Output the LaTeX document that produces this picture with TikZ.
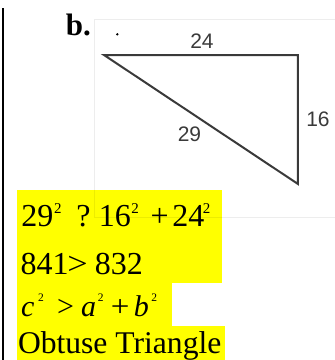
\documentclass[tikz,border=0pt]{standalone}
\usepackage{fontspec}
\setmainfont{Liberation Serif}
\newfontfamily\labsans{Liberation Sans}
\usepackage{graphicx}
\definecolor{hl}{HTML}{FFFF00}
\definecolor{trigray}{HTML}{3A3A3A}
\tikzset{
  base/.style={inner sep=0pt, outer sep=0pt, anchor=base west},
  big/.style={base, font=\fontsize{32}{32}\selectfont},
  mid/.style={base, font=\fontsize{30}{30}\selectfont\itshape},
  midup/.style={base, font=\fontsize{30}{30}\selectfont},
  sup/.style={base, font=\fontsize{15}{15}\selectfont},
  smallsup/.style={base, font=\fontsize{11.5}{11.5}\selectfont},
  lab/.style={inner sep=0pt, text=trigray, font=\labsans\fontsize{21}{21}\selectfont},
  side/.style={draw=trigray, line width=2pt, line join=miter},
  framestyle/.style={draw=black, draw opacity=0.07, line width=1pt},
}
\newcommand{\widegt}[1]{\scalebox{#1}[1]{>}}
\begin{document}
\begin{tikzpicture}[x=1pt,y=-1pt]
\useasboundingbox (0,0) rectangle (335,360);
% highlight boxes
\fill[hl] (17.5,190) rectangle (222.5,283);
\fill[hl] (17.5,283) rectangle (172,325.5);
\fill[hl] (17.5,325.5) rectangle (225,360);
% frame of the figure
\draw[framestyle] (336,19) -- (95,19) -- (95,217) -- (336,217);
% left rule
\draw[black, line width=2pt] (3,8) -- (3,360);
% label b.
\node[base, font=\fontsize{31}{31}\selectfont\bfseries] (b) at (66,35) {b.};
\fill[black] (117.3,34.3) circle (1.3);
% triangle
\coordinate (A) at (104,55);
\coordinate (B) at (298,55);
\coordinate (C) at (298,184);
\draw[side] (A) -- (B) -- (C) -- cycle;
\node[lab] (l24) at (202,41) {24};
\node[lab] (l16) at (318,119) {16};
\node[lab] (l29) at (189.5,134) {29};
% line 1
\node[big] (t1a) at (21.3,226.8) {29};
\node[sup] (t1b) at (54,213.5) {2};
\node[big] (t1c) at (76.4,226.8) {?};
\node[big] (t1d) at (98.8,226.8) {16};
\node[sup] (t1e) at (131.5,213.5) {2};
\node[big] (t1f) at (150.7,226.8) {+};
\node[big] (t1g) at (172.3,226.8) {24};
\node[sup] (t1h) at (203,213.5) {2};
% line 2
\node[big] (t2a) at (20.6,274.5) {841};
\node[big] (t2b) at (67.4,274.5) {\widegt{1.13}};
\node[big] (t2c) at (95,274.5) {832};
% line 3
\node[mid] (t3a) at (21,316.7) {c};
\node[smallsup] (t3b) at (38,301.7) {2};
\node[midup] (t3c) at (57,316.7) {>};
\node[mid] (t3d) at (81.2,316.7) {a};
\node[smallsup] (t3e) at (98,301.7) {2};
\node[midup] (t3f) at (110.8,316.7) {\scalebox{1.1}[1]{+}};
\node[mid] (t3g) at (134,316.7) {b};
\node[smallsup] (t3h) at (151.5,301.7) {2};
% line 4
\node[base, font=\fontsize{31.6}{31.6}\selectfont] (t4) at (18,353.5) {Obtuse Triangle};
\end{tikzpicture}
\end{document}
